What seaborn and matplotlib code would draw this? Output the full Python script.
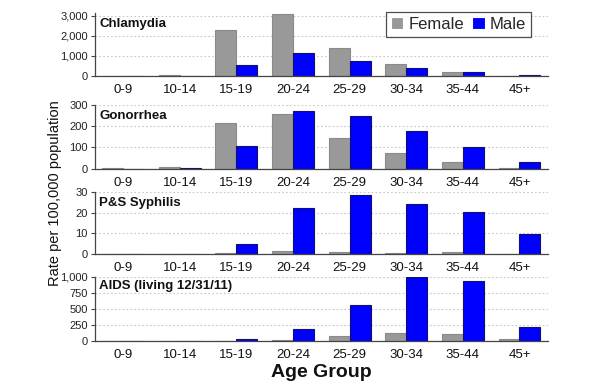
import numpy as np
import pandas as pd
import matplotlib
matplotlib.use('Agg')
import matplotlib.pyplot as plt
from matplotlib.ticker import FuncFormatter
import seaborn as sns

# ── Data ──────────────────────────────────────────────────────────────────────
AGE_GROUPS = ['0-9', '10-14', '15-19', '20-24', '25-29', '30-34', '35-44', '45+']
SEXES      = ['Female', 'Male']

chlamydia_female = [5, 60, 2300, 3090, 1375, 610, 215, 20]
chlamydia_male   = [1, 10, 550, 1130, 760, 415, 200, 40]

gonorrhea_female = [1, 8, 215, 256, 143, 74, 31, 2]
gonorrhea_male   = [0.5, 4, 108, 273, 248, 179, 100, 33]

syphilis_female  = [0, 0, 0.5, 1.6, 1.1, 0.5, 0.8, 0.2]
syphilis_male    = [0, 0, 4.8, 22, 28.4, 24, 20.4, 9.5]

aids_female      = [1, 1, 5, 20, 83, 124, 104, 26]
aids_male        = [1, 2, 26, 181, 554, 1000, 933, 218]

PANEL_TITLES = ['Chlamydia', 'Gonorrhea', 'P&S Syphilis', 'AIDS (living 12/31/11)']
PANEL_DATA   = [(chlamydia_female, chlamydia_male),
                (gonorrhea_female, gonorrhea_male),
                (syphilis_female, syphilis_male),
                (aids_female, aids_male)]
PANEL_TICKS  = [[0, 1000, 2000, 3000],
                [0, 100, 200, 300],
                [0, 10, 20, 30],
                [0, 250, 500, 750, 1000]]
PANEL_YMAX   = [3150, 300, 30, 1000]

# ── Styling ───────────────────────────────────────────────────────────────────
sns.set_theme(style='white')
plt.rcParams['font.family'] = ['Liberation Sans', 'DejaVu Sans']

PALETTE = {'Female': '#999999', 'Male': '#0000ff'}
EDGES   = {'Female': '#8a8a8a', 'Male': '#101070'}

# axes rectangles in figure fraction (left, bottom, width, height)
LEFT, WIDTH = 0.158, 0.755
PANEL_POS = [(0.803, 0.164), (0.563, 0.165), (0.342, 0.161), (0.1166, 0.1666)]

fig = plt.figure(figsize=(6.0, 3.86), dpi=100)

for i, (title, (fem, mal), ticks, ymax, (bottom, height)) in enumerate(
        zip(PANEL_TITLES, PANEL_DATA, PANEL_TICKS, PANEL_YMAX, PANEL_POS)):
    ax = fig.add_axes([LEFT, bottom, WIDTH, height])
    df = pd.DataFrame({
        'age':  AGE_GROUPS * 2,
        'sex':  ['Female'] * len(AGE_GROUPS) + ['Male'] * len(AGE_GROUPS),
        'rate': list(fem) + list(mal),
    })
    sns.barplot(data=df, x='age', y='rate', hue='sex', order=AGE_GROUPS,
                hue_order=SEXES, palette=PALETTE, saturation=1, width=0.74,
                gap=0, linewidth=0.8, legend=(i == 0), ax=ax)

    # per-series bar edges
    for container, sex in zip(ax.containers, SEXES):
        for bar in container:
            bar.set_edgecolor(EDGES[sex])

    ax.set_xlim(-0.5, len(AGE_GROUPS) - 0.5)
    ax.set_ylim(0, ymax)
    ax.set_yticks(ticks)
    ax.yaxis.set_major_formatter(FuncFormatter(lambda v, p: f'{int(v):,}'))
    ax.set_xlabel('')
    ax.set_ylabel('')

    # category separators as tick marks, labels centred
    ax.set_xticks(np.arange(-0.5, len(AGE_GROUPS)), minor=True)
    ax.tick_params(axis='x', which='major', length=0, pad=6, labelsize=9.5,
                   labelcolor='#111111')
    ax.tick_params(axis='x', which='minor', length=4, width=0.8,
                   direction='out', color='#444444')
    ax.tick_params(axis='y', length=3, width=0.8, direction='out',
                   color='#444444', labelsize=8, pad=2, labelcolor='#222222')
    ax.tick_params(bottom=True, left=True)

    ax.yaxis.grid(True, linestyle=(0, (1.5, 2)), color='#c8c8c8', linewidth=0.8)
    ax.set_axisbelow(True)
    for side in ['top', 'right']:
        ax.spines[side].set_visible(False)
    for side in ['left', 'bottom']:
        ax.spines[side].set_color('#444444')
        ax.spines[side].set_linewidth(0.9)

    ax.text(0.01, 0.82 if i != 3 else 0.85, title, transform=ax.transAxes,
            fontsize=9.5, fontweight='bold', color='#111111', va='center')

    if i == 0:
        leg = ax.legend(loc='upper right', bbox_to_anchor=(0.97, 1.07),
                        fontsize=12, frameon=True, fancybox=False,
                        ncol=2, handlelength=0.75, handleheight=0.75,
                        handletextpad=0.3, columnspacing=0.5,
                        borderpad=0.3, borderaxespad=0.2, title=None)
        leg.get_frame().set_edgecolor('#222222')
        leg.get_frame().set_linewidth(0.9)

fig.text(0.092, 0.5, 'Rate per 100,000 population', rotation=90,
         ha='center', va='center', fontsize=10.5, color='#111111')
fig.text(LEFT + WIDTH / 2, 0.036, 'Age Group', ha='center', va='center',
         fontsize=14, fontweight='bold', color='#111111')

fig.savefig('out.png', dpi=100)
plt.close(fig)
